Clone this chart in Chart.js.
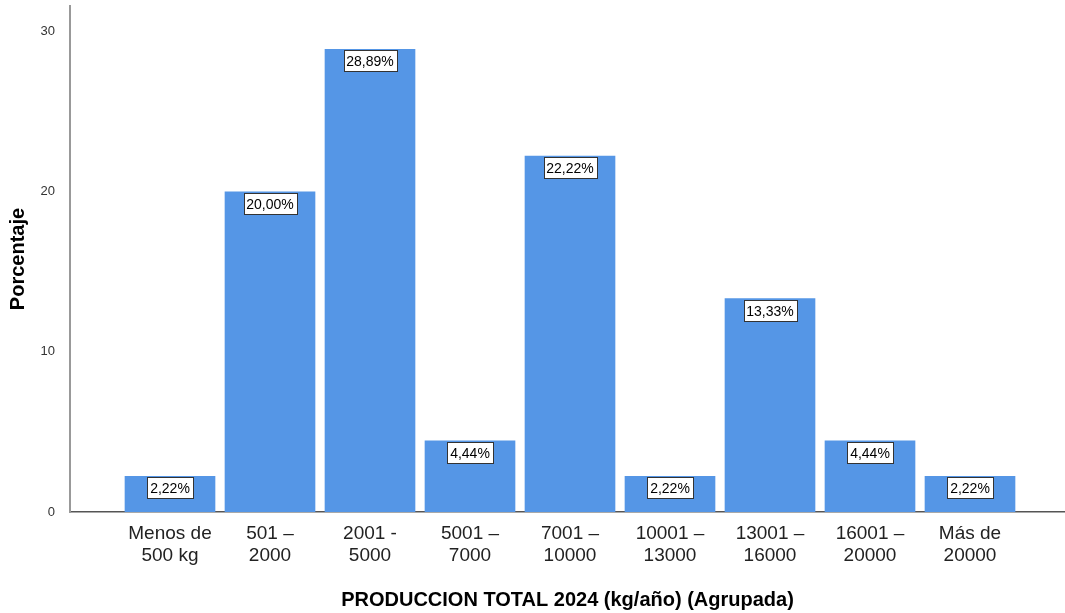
<!DOCTYPE html>
<html>
<head>
<meta charset="utf-8">
<script src="https://cdn.jsdelivr.net/npm/chart.js@4"></script>
<style>
  html, body { margin: 0; padding: 0; background: #fff; }
  #wrap { width: 1065px; height: 613px; }
</style>
</head>
<body>
<div id="wrap"><canvas id="myChart" width="1065" height="613"></canvas></div>
<script>
// Datos del gráfico
const categorias = [
  ['Menos de', '500 kg'], ['501 –', '2000'], ['2001 -', '5000'], ['5001 –', '7000'],
  ['7001 –', '10000'], ['10001 –', '13000'], ['13001 –', '16000'], ['16001 –', '20000'],
  ['Más de', '20000']
];
const porcentajes = [2.22, 20.00, 28.89, 4.44, 22.22, 2.22, 13.33, 4.44, 2.22];
const ticksY = [0, 10, 20, 30];

const FONT = '"Liberation Sans", Arial, sans-serif';

// Etiquetas con recuadro blanco en cada barra
const etiquetasPlugin = {
  id: 'etiquetas',
  afterDatasetsDraw(chart) {
    const ctx = chart.ctx;
    const meta = chart.getDatasetMeta(0);
    ctx.save();
    ctx.font = '14px ' + FONT;
    ctx.textAlign = 'center';
    ctx.textBaseline = 'middle';
    meta.data.forEach((bar, i) => {
      const txt = porcentajes[i].toFixed(2).replace('.', ',') + '%';
      const w = Math.round(ctx.measureText(txt).width + 6);
      const h = 21;
      const left = Math.round(bar.x - w / 2) + 0.5;
      const top = Math.round(bar.y + 1) + 0.5;
      ctx.fillStyle = '#ffffff';
      ctx.fillRect(left, top, w, h);
      ctx.strokeStyle = '#333333';
      ctx.lineWidth = 1;
      ctx.strokeRect(left, top, w, h);
      ctx.fillStyle = '#000000';
      ctx.fillText(txt, bar.x, top + h / 2 + 1);
    });
    ctx.restore();
  }
};

const ctx = document.getElementById('myChart').getContext('2d');
const myChart = new Chart(ctx, {
  type: 'bar',
  data: {
    datasets: [{
      label: 'Porcentaje',
      data: porcentajes.map((v, i) => ({ x: i, y: v })),
      backgroundColor: '#5596e6',
      borderWidth: 0,
      barThickness: 90
    }]
  },
  options: {
    responsive: false,
    animation: false,
    layout: { padding: { left: 0, right: 0, top: 6, bottom: 0 } },
    plugins: {
      legend: { display: false },
      tooltip: { enabled: false }
    },
    scales: {
      x: {
        type: 'linear',
        offset: false,
        min: -1,
        max: 8.95,
        grid: { display: false },
        border: { display: true, color: '#555555', width: 1.5 },
        ticks: {
          stepSize: 1,
          autoSkip: false,
          maxRotation: 0,
          padding: 3,
          color: '#222222',
          font: { family: FONT, size: 19, lineHeight: 1.15 },
          callback: (v) => (Number.isInteger(v) && v >= 0 && v < categorias.length) ? categorias[v] : ''
        },
        title: {
          display: true,
          text: 'PRODUCCION TOTAL 2024 (kg/año) (Agrupada)',
          color: '#000000',
          font: { family: FONT, size: 20, weight: 'bold', lineHeight: 1.2 },
          padding: { top: 0, bottom: 1 }
        },
        afterFit(scale) {
          scale.height = 101;
          scale.paddingLeft = 0;
          scale.paddingRight = 0;
        }
      },
      y: {
        min: 0,
        max: 31.6,
        grid: { display: false },
        border: { display: true, color: '#999999', width: 2 },
        ticks: {
          stepSize: 10,
          padding: 7,
          color: '#333333',
          font: { family: FONT, size: 13 },
          callback: (v) => ticksY.includes(v) ? v : ''
        },
        title: {
          display: true,
          text: 'Porcentaje',
          color: '#000000',
          font: { family: FONT, size: 20, weight: 'bold', lineHeight: 1.2 },
          padding: { top: 6, bottom: 0 }
        },
        afterFit(scale) {
          scale.width = 70;
          scale.paddingTop = 0;
          scale.paddingBottom = 0;
        }
      }
    }
  },
  plugins: [etiquetasPlugin]
});
</script>
</body>
</html>
